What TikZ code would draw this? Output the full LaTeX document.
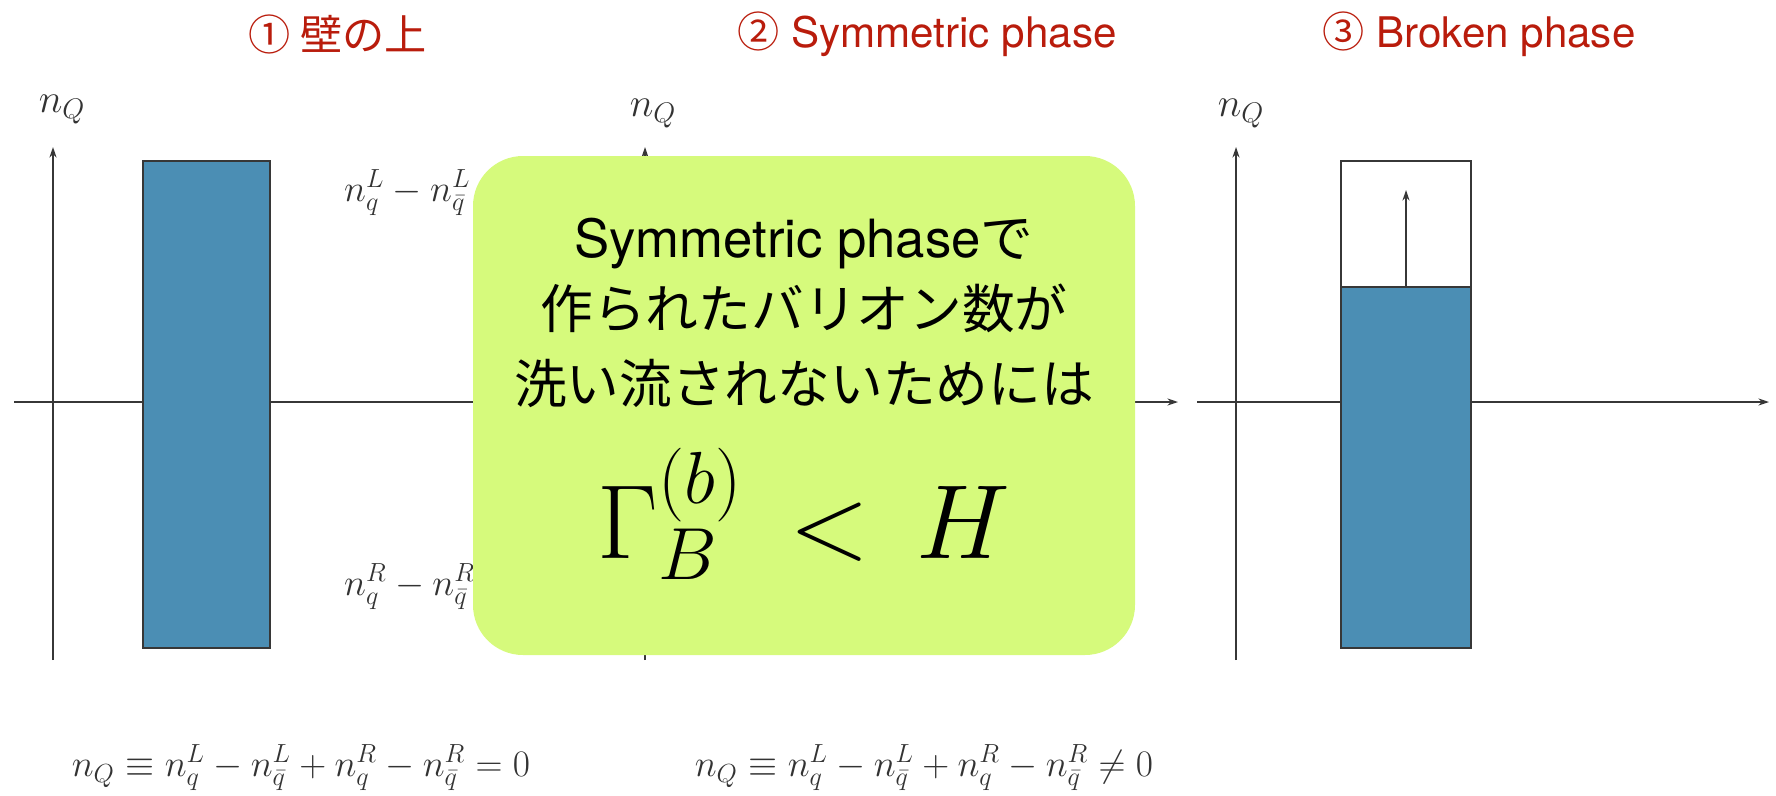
\RequirePackage{fix-cm}
\documentclass[tikz,border=0pt]{standalone}
\usepackage{amsmath}
\usepackage[no-math]{fontspec}
\setmainfont{TeX Gyre Heros}
\newfontfamily\jpfont{Noto Sans CJK JP}
\usepackage{xcolor}
\usetikzlibrary{arrows.meta, positioning}

\definecolor{titlered}{RGB}{185,28,12}
\definecolor{barblue}{RGB}{75,142,180}
\definecolor{notegreen}{RGB}{214,250,124}
\definecolor{axisgray}{RGB}{55,55,55}

\begin{document}
\begin{tikzpicture}[
    x=0.02cm, y=-0.02cm,
    axis/.style={draw=axisgray, line width=0.9pt, -{Stealth[length=6pt, width=4pt]}},
    bar/.style={draw=axisgray, line width=0.9pt, fill=barblue},
    frame/.style={draw=axisgray, line width=0.9pt},
    title/.style={text=titlered, font=\fontsize{24}{28}\selectfont},
    lbl/.style={text=black!80, font=\fontsize{21.3}{25}\selectfont},
    axlbl/.style={text=black!80, font=\fontsize{23}{27}\selectfont},
    msg/.style={anchor=base, font=\fontsize{30}{41}\selectfont},
    formula/.style={anchor=base, font=\fontsize{60}{68}\selectfont}
]
    \useasboundingbox (0,0) rectangle (1776,795);

    % titles
    \node[title] (t1) at (338,34) {\jpfont ① 壁の上};
    \node[title] (t2) at (927,34) {{\jpfont ②} Symmetric phase};
    \node[title] (t3) at (1479,34) {{\jpfont ③} Broken phase};

    % plot 1
    \coordinate (y1a) at (53,660);
    \coordinate (y1b) at (53,147);
    \coordinate (x1a) at (14,402);
    \coordinate (x1b) at (560,402);
    \draw[axis] (y1a) -- (y1b);
    \draw[axis] (x1a) -- (x1b);
    \draw[bar] (143,161) rectangle (270,648);
    \node[axlbl] (nq1) at (62,110) {$n_Q$};
    \node[lbl, anchor=west] (ll1) at (338,193) {$n_q^L - n_{\bar q}^L$};
    \node[lbl, anchor=west] (rr1) at (338,587) {$n_q^R - n_{\bar q}^R$};
    \node[lbl] (eq1) at (301,768) {$n_Q \equiv n_q^L - n_{\bar q}^L + n_q^R - n_{\bar q}^R = 0$};

    % plot 2
    \coordinate (y2a) at (645,660);
    \coordinate (y2b) at (645,147);
    \coordinate (x2a) at (610,402);
    \coordinate (x2b) at (1178,402);
    \draw[axis] (y2a) -- (y2b);
    \draw[axis] (x2a) -- (x2b);
    \node[axlbl] (nq2) at (653,114) {$n_Q$};
    \node[lbl] (eq2) at (924,768) {$n_Q \equiv n_q^L - n_{\bar q}^L + n_q^R - n_{\bar q}^R \neq 0$};

    % plot 3
    \coordinate (y3a) at (1236,660);
    \coordinate (y3b) at (1236,147);
    \coordinate (x3a) at (1197,402);
    \coordinate (x3b) at (1769,402);
    \draw[axis] (y3a) -- (y3b);
    \draw[axis] (x3a) -- (x3b);
    \draw[frame] (1341,161) rectangle (1471,648);
    \draw[bar] (1341,287) rectangle (1471,648);
    \coordinate (up3a) at (1406,287);
    \coordinate (up3b) at (1406,190);
    \draw[axis] (up3a) -- (up3b);
    \node[axlbl] (nq3) at (1241,114) {$n_Q$};

    % note on top
    \fill[notegreen, rounded corners=1cm] (473,156) rectangle (1135,655);
    \node[msg] (m1) at (804,257) {Symmetric phase{\jpfont で}};
    \node[msg] (m2) at (804,328) {\jpfont 作られたバリオン数が};
    \node[msg] (m3) at (804,403) {\jpfont 洗い流されないためには};
    \node[formula] (m4) at (804,558) {$\Gamma_B^{(b)} \,<\, H$};
\end{tikzpicture}
\end{document}
